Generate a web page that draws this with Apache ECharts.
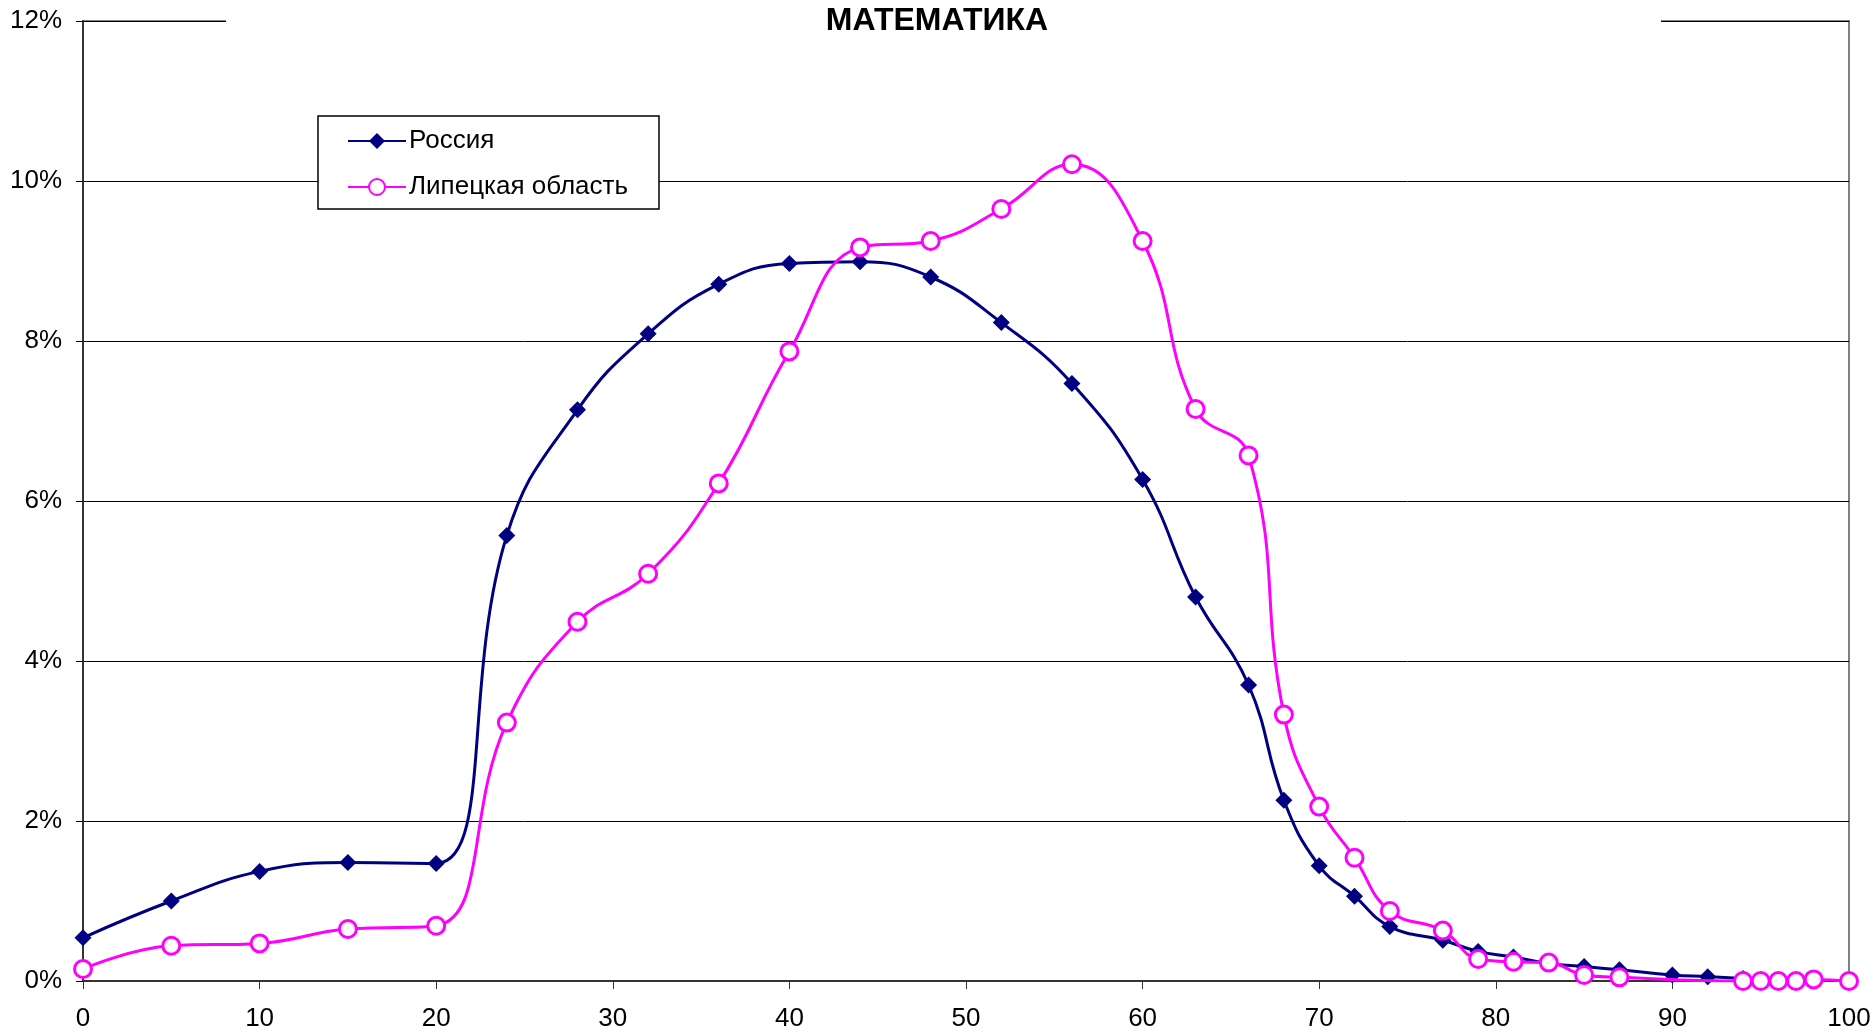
<!DOCTYPE html>
<html>
<head>
<meta charset="utf-8">
<script src="https://cdn.jsdelivr.net/npm/echarts@6/dist/echarts.min.js"></script>
<style>html,body{margin:0;padding:0;background:#fff}#c{width:1874px;height:1034px}</style>
</head>
<body>
<div id="c"></div>
<script>
var titleText = 'МАТЕМАТИКА';
var seriesNames = ['Россия', 'Липецкая область'];
var russiaX = [0,5,10,15,20,24,28,32,36,40,44,48,52,56,60,63,66,68,70,72,74,77,79,81,83,85,87,90,92,94];
var russiaY = [0.54,1.00,1.37,1.48,1.47,5.57,7.14,8.09,8.71,8.97,8.99,8.80,8.23,7.47,6.27,4.80,3.70,2.26,1.44,1.06,0.68,0.51,0.37,0.30,0.22,0.18,0.14,0.075,0.054,0.03];
var lipetskX = [0,5,10,15,20,24,28,32,36,40,44,48,52,56,60,63,66,68,70,72,74,77,79,81,83,85,87,94,95,96,97,98,100];
var lipetskY = [0.15,0.44,0.47,0.65,0.69,3.23,4.49,5.09,6.22,7.87,9.17,9.25,9.65,10.21,9.25,7.15,6.57,3.33,2.18,1.54,0.875,0.63,0.275,0.24,0.23,0.075,0.046,0,0,0,0,0.02,0];
var yTicks = {min: 0, max: 12, interval: 2};
var xTicks = {min: 0, max: 100, interval: 10};

function pairs(xs, ys){ return xs.map(function(x,i){ return [x, ys[i]]; }); }

var FONT = 'Arial, "Liberation Sans", sans-serif';
var chart = echarts.init(document.getElementById('c'), null, {renderer: 'canvas'});
chart.setOption({
  animation: false,
  backgroundColor: '#fff',
  title: {
    text: titleText,
    left: 'center',
    top: 3,
    z: 20,
    padding: [2, 0, 0, 14],
    textStyle: {fontFamily: FONT, fontSize: 32, fontWeight: 'bold', color: '#000'}
  },
  graphic: [{
    type: 'rect', z: 15, silent: true,
    shape: {x: 226, y: 12, width: 1435, height: 20},
    style: {fill: '#fff'}
  }],
  grid: {
    left: 83, right: 25, top: 21, bottom: 53,
    show: true, borderColor: '#808080', borderWidth: 2, backgroundColor: 'transparent'
  },
  legend: {
    orient: 'vertical',
    left: 318, top: 116,
    padding: [12, 31, 9, 29],
    itemGap: 20,
    itemWidth: 58, itemHeight: 20,
    backgroundColor: '#fff',
    borderColor: '#000', borderWidth: 1.5,
    textStyle: {fontFamily: FONT, fontSize: 26, color: '#000', padding: [0,0,0,-2]},
    data: seriesNames
  },
  xAxis: {
    type: 'value',
    min: xTicks.min, max: xTicks.max, interval: xTicks.interval,
    axisLine: {show: true, onZero: false, lineStyle: {color: '#333', width: 2}},
    axisTick: {show: true, inside: false, length: 8, lineStyle: {color: '#333', width: 1}},
    axisLabel: {margin: 25, fontFamily: FONT, fontSize: 26, color: '#000'},
    splitLine: {show: false}
  },
  yAxis: {
    type: 'value',
    min: yTicks.min, max: yTicks.max, interval: yTicks.interval,
    axisLine: {show: true, lineStyle: {color: '#333', width: 2}},
    axisTick: {show: true, inside: false, length: 7, lineStyle: {color: '#000', width: 1}},
    axisLabel: {margin: 21, fontFamily: FONT, fontSize: 26, color: '#000', formatter: '{value}%'},
    splitLine: {show: true, lineStyle: {color: '#000', width: 1}}
  },
  series: [
    {
      name: seriesNames[0], type: 'line', smooth: 0.45,
      data: pairs(russiaX, russiaY),
      symbol: 'diamond', symbolSize: 17,
      lineStyle: {color: '#000080', width: 3},
      itemStyle: {color: '#000080', borderWidth: 0},
      z: 3
    },
    {
      name: seriesNames[1], type: 'line', smooth: 0.45,
      data: pairs(lipetskX, lipetskY),
      symbol: 'circle', symbolSize: 17, showAllSymbol: true,
      lineStyle: {color: '#ff00ff', width: 3},
      itemStyle: {color: '#ffffff', borderColor: '#ff00ff', borderWidth: 3},
      z: 4
    }
  ]
});
</script>
</body>
</html>
